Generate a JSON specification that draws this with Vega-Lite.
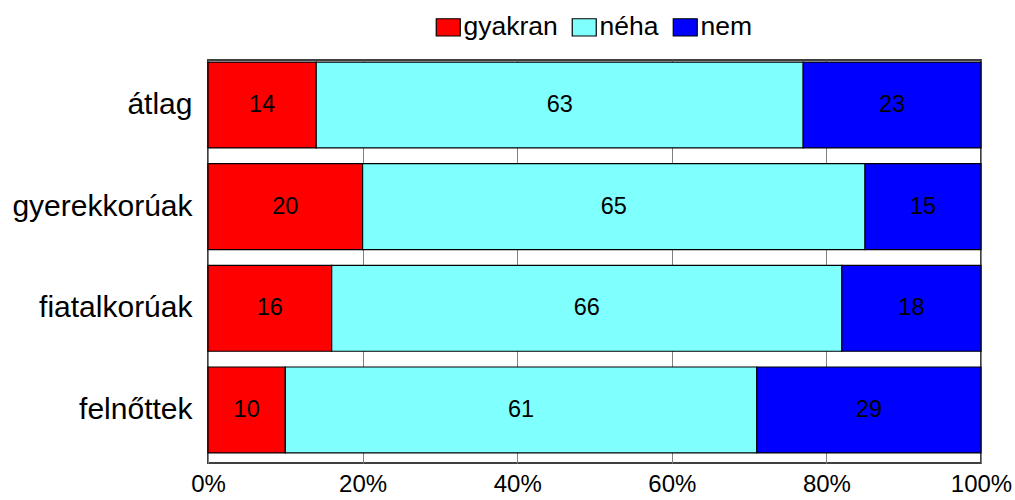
{
  "$schema": "https://vega.github.io/schema/vega-lite/v6.json",
  "autosize": "none",
  "width": 773,
  "height": 403,
  "padding": {"left": 208, "top": 60, "right": 34, "bottom": 37},
  "background": "white",
  "config": {
    "font": "Liberation Sans",
    "view": {"stroke": "#404040", "strokeWidth": 2}
  },
  "data": {
    "values": [
      {"group": "átlag", "cat": "gyakran", "o": 1, "value": 14},
      {"group": "átlag", "cat": "néha", "o": 2, "value": 63},
      {"group": "átlag", "cat": "nem", "o": 3, "value": 23},
      {"group": "gyerekkorúak", "cat": "gyakran", "o": 1, "value": 20},
      {"group": "gyerekkorúak", "cat": "néha", "o": 2, "value": 65},
      {"group": "gyerekkorúak", "cat": "nem", "o": 3, "value": 15},
      {"group": "fiatalkorúak", "cat": "gyakran", "o": 1, "value": 16},
      {"group": "fiatalkorúak", "cat": "néha", "o": 2, "value": 66},
      {"group": "fiatalkorúak", "cat": "nem", "o": 3, "value": 18},
      {"group": "felnőttek", "cat": "gyakran", "o": 1, "value": 10},
      {"group": "felnőttek", "cat": "néha", "o": 2, "value": 61},
      {"group": "felnőttek", "cat": "nem", "o": 3, "value": 29}
    ]
  },
  "transform": [
    {"stack": "value", "groupby": ["group"], "sort": [{"field": "o", "order": "ascending"}], "as": ["x0", "x1"]},
    {"calculate": "(datum.x0 + datum.x1) / 2", "as": "mid"}
  ],
  "encoding": {
    "y": {
      "field": "group",
      "type": "nominal",
      "sort": ["átlag", "gyerekkorúak", "fiatalkorúak", "felnőttek"],
      "scale": {"paddingInner": 0.155, "paddingOuter": 0.06, "align": 0.17},
      "axis": {
        "title": null,
        "domain": false,
        "ticks": false,
        "labelFontSize": 30,
        "labelColor": "black",
        "labelPadding": 16,
        "labelLimit": 400
      }
    }
  },
  "layer": [
    {
      "mark": {"type": "bar", "stroke": "black", "strokeWidth": 1.2},
      "encoding": {
        "x": {
          "field": "x0",
          "type": "quantitative",
          "scale": {"domain": [0, 100], "nice": false},
          "axis": {
            "title": null,
            "values": [0, 20, 40, 60, 80, 100],
            "labelExpr": "datum.value + '%'",
            "labelFontSize": 24,
            "labelColor": "black",
            "labelPadding": 9,
            "domain": false,
            "ticks": false,
            "grid": true,
            "gridColor": "#808080",
            "gridWidth": 1,
            "labelFlush": false
          }
        },
        "x2": {"field": "x1"},
        "color": {
          "field": "cat",
          "type": "nominal",
          "sort": ["gyakran", "néha", "nem"],
          "scale": {"domain": ["gyakran", "néha", "nem"], "range": ["#FF0000", "#80FFFF", "#0000FF"]},
          "legend": {
            "title": null,
            "orient": "none",
            "direction": "horizontal",
            "legendX": 227,
            "legendY": -46,
            "symbolType": "M-1,-0.72H1V0.72H-1Z",
            "symbolSize": 576,
            "symbolStrokeColor": "black",
            "symbolStrokeWidth": 1.2,
            "symbolOpacity": 1,
            "labelFontSize": 26.5,
            "labelColor": "black",
            "labelOffset": 2,
            "columnPadding": 11,
            "symbolOffset": 0
          }
        }
      }
    },
    {
      "mark": {"type": "text", "fontSize": 23.5, "color": "black"},
      "encoding": {
        "x": {"field": "mid", "type": "quantitative"},
        "text": {"field": "value", "type": "quantitative"}
      }
    }
  ]
}
